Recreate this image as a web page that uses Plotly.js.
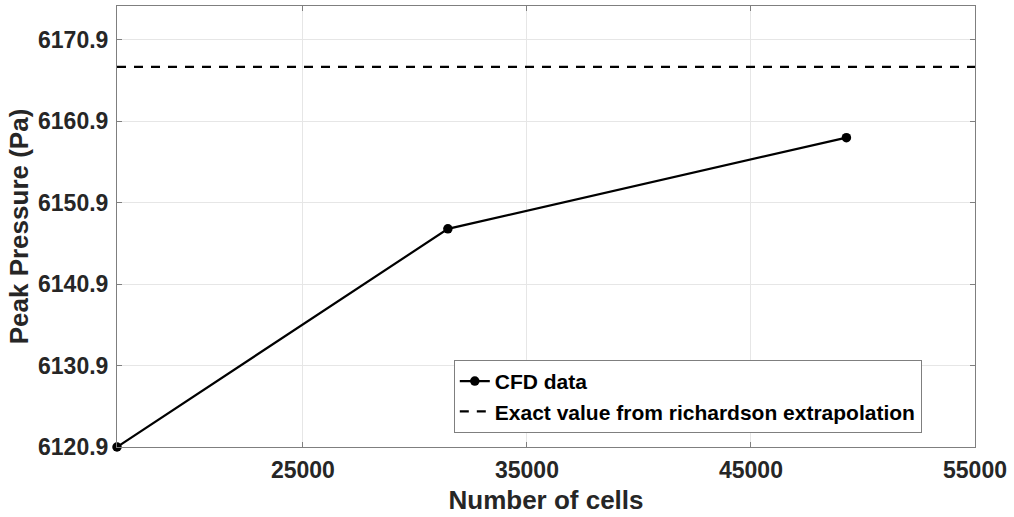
<!DOCTYPE html>
<html>
<head>
<meta charset="utf-8">
<script src="https://cdn.plot.ly/plotly-3.0.1.min.js"></script>
<style>
  html, body { margin: 0; padding: 0; background: #ffffff; }
  #chart { width: 1014px; height: 517px; }
</style>
</head>
<body>
<div id="chart"></div>
<script>
// Data
const cells = [16700, 31470, 49260];
const peakPressure = [6120.9, 6147.7, 6158.9];
const exactValue = 6167.6;
const exactX = [16700, 55000];
const xTickVals = [25000, 35000, 45000, 55000];
const xTickText = ['25000', '35000', '45000', '55000'];
const yTickVals = [6120.9, 6130.9, 6140.9, 6150.9, 6160.9, 6170.9];
const yTickText = ['6120.9', '6130.9', '6140.9', '6150.9', '6160.9', '6170.9'];
const seriesNames = ['CFD data', 'Exact value from richardson extrapolation'];

const fontFam = '"Liberation Sans", Arial, sans-serif';
const txt = '#262626';
const axisCol = '#7f7f7f';

const traces = [
  {
    x: cells,
    y: peakPressure,
    type: 'scatter',
    mode: 'lines+markers',
    name: seriesNames[0],
    line: { color: '#000000', width: 2.2 },
    marker: { color: '#000000', size: 9.5, symbol: 'circle' },
    cliponaxis: false
  },
  {
    x: exactX,
    y: exactX.map(() => exactValue),
    type: 'scatter',
    mode: 'lines',
    name: seriesNames[1],
    line: { color: '#000000', width: 2.2, dash: '9px,8px' }
  }
];

const layout = {
  width: 1014,
  height: 517,
  paper_bgcolor: '#ffffff',
  plot_bgcolor: '#ffffff',
  margin: { l: 117, r: 39, t: 6, b: 70, pad: 0 },
  font: { family: fontFam, color: txt, size: 21 },
  showlegend: true,
  legend: {
    x: 0.938, y: 0.032, xanchor: 'right', yanchor: 'bottom',
    bgcolor: '#ffffff',
    bordercolor: axisCol,
    borderwidth: 1,
    font: { family: fontFam, size: 21, color: '#000000', weight: 'bold' },
    tracegroupgap: 0,
    itemwidth: 30
  },
  xaxis: {
    range: [16700, 55000],
    tickmode: 'array',
    tickvals: xTickVals,
    ticktext: xTickText,
    ticks: 'inside',
    ticklen: 5,
    tickwidth: 1,
    tickcolor: axisCol,
    showline: true,
    linecolor: axisCol,
    linewidth: 1,
    mirror: 'allticks',
    showgrid: true,
    gridcolor: '#e6e6e6',
    gridwidth: 1,
    zeroline: false,
    ticklabelstandoff: 2,
    tickfont: { family: fontFam, size: 23, color: txt, weight: 'bold' },
    title: { text: 'Number of cells', font: { family: fontFam, size: 26, color: txt, weight: 'bold' }, standoff: 9 }
  },
  yaxis: {
    range: [6120.9, 6175.07],
    tickmode: 'array',
    tickvals: yTickVals,
    ticktext: yTickText,
    ticks: 'inside',
    ticklen: 5,
    tickwidth: 1,
    tickcolor: axisCol,
    showline: true,
    linecolor: axisCol,
    linewidth: 1,
    mirror: 'allticks',
    showgrid: true,
    gridcolor: '#e6e6e6',
    gridwidth: 1,
    zeroline: false,
    ticklabelstandoff: 3,
    tickfont: { family: fontFam, size: 23, color: txt, weight: 'bold' },
    title: { text: 'Peak Pressure (Pa)', font: { family: fontFam, size: 26, color: txt, weight: 'bold' }, standoff: 1 }
  }
};

Plotly.newPlot('chart', traces, layout, { staticPlot: true, displayModeBar: false });
</script>
</body>
</html>
